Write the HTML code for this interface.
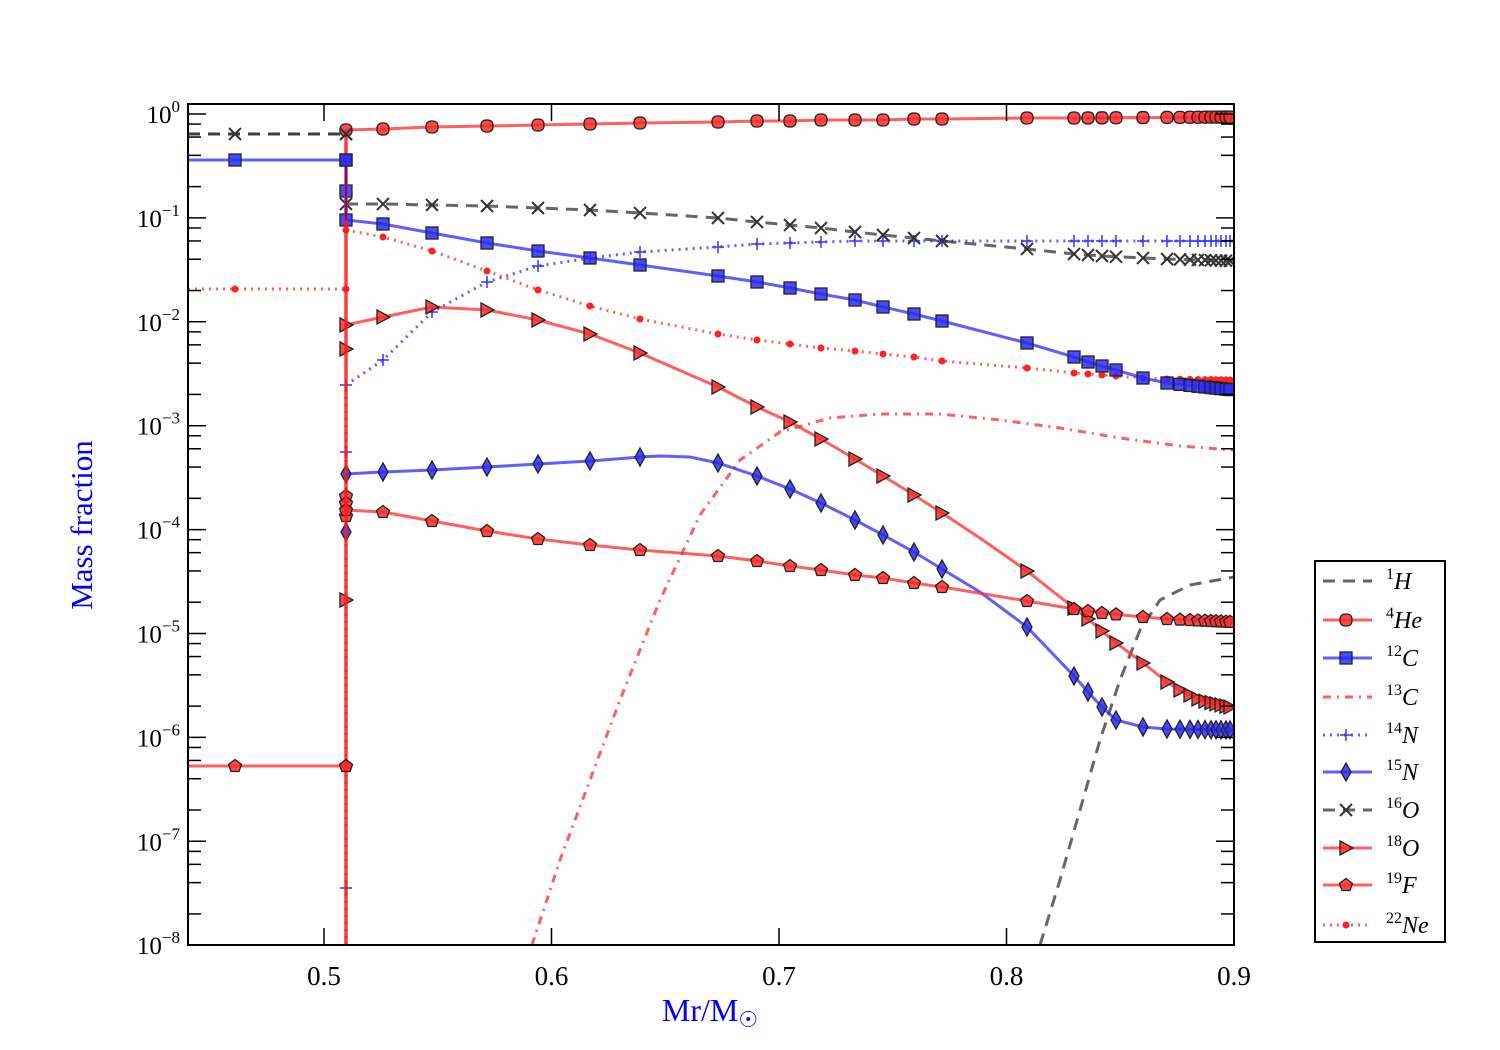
<!DOCTYPE html>
<html><head><meta charset="utf-8"><style>
html,body{margin:0;padding:0;background:#fff;}
svg{display:block;}
text{font-family:"Liberation Serif",serif;}
</style></head><body>
<svg id="s" width="1500" height="1050" xmlns="http://www.w3.org/2000/svg">
<defs><clipPath id="cp"><rect x="188" y="104" width="1046" height="841"/></clipPath></defs>
<g id="plot" clip-path="url(#cp)"></g>
<g id="ax"></g>
<rect x="188" y="104" width="1046" height="841" fill="none" stroke="#000" stroke-width="2"/>
<text x="92" y="525" fill="#0000ff" font-size="31" text-anchor="middle" transform="rotate(-90 92 525)">Mass fraction</text>
<text x="710" y="1021" fill="#0000ff" font-size="32" text-anchor="middle">Mr/M<tspan font-family="DejaVu Sans" font-size="22" dy="6">☉</tspan></text>
<g id="leg"></g>
</svg>
<script>
const NS="http://www.w3.org/2000/svg";
function el(t,a,p){const e=document.createElementNS(NS,t);for(const k in a)e.setAttribute(k,a[k]);(p||document.getElementById('plot')).appendChild(e);return e;}
const ax=document.getElementById('ax');
function Y(l){return 114-l*103.9;}
for(let d=0;d>=-8;d--){
  const y=Y(d);
  el('line',{x1:188,y1:y,x2:206,y2:y,stroke:'#000','stroke-width':1.5},ax);
  el('line',{x1:1234,y1:y,x2:1216,y2:y,stroke:'#000','stroke-width':1.5},ax);
  const t=el('text',{x:180,y:y+9,'font-size':25,'text-anchor':'end'},ax);
  t.innerHTML='10<tspan dy="-11" font-size="17">'+(d==0?'0':'−'+(-d))+'</tspan>';
  [2,4,6,8].forEach(k=>{const yy=Y(d+Math.log10(k));if(yy>945||yy<104)return;
    el('line',{x1:188,y1:yy,x2:201,y2:yy,stroke:'#000','stroke-width':1.5},ax);
    el('line',{x1:1234,y1:yy,x2:1221,y2:yy,stroke:'#000','stroke-width':1.5},ax);});
}
[0.5,0.6,0.7,0.8,0.9].forEach(v=>{const x=324+(v-0.5)*2275;
  el('line',{x1:x,y1:945,x2:x,y2:928,stroke:'#000','stroke-width':1.5},ax);
  el('line',{x1:x,y1:104,x2:x,y2:121,stroke:'#000','stroke-width':1.5},ax);
  const t=el('text',{x:x,y:985,'font-size':27,'text-anchor':'middle'},ax);t.textContent=v.toFixed(1);});
const MX=[383,432,487,538,590,640,718,757,790,821,855,883,914,942,1027,1074,1088,1102,1116,1143,1167,1180,1190,1198,1205,1211,1216,1221,1226,1230];
function interp(pts,x){for(let i=0;i<pts.length-1;i++){const a=pts[i],b=pts[i+1];if(x>=a[0]&&x<=b[0]){return a[1]+(b[1]-a[1])*(x-a[0])/(b[0]-a[0]);}}return null;}
function marker(type,x,y,fill,g){
  const st={fill:fill,stroke:'#222','stroke-width':1.3,'fill-opacity':0.85};
  if(type=='o')el('rect',Object.assign({x:x-6,y:y-6,width:12,height:12,rx:5},st),g);
  if(type=='s')el('rect',Object.assign({x:x-6,y:y-6,width:12,height:12},st),g);
  if(type=='d')el('polygon',Object.assign({points:`${x},${y-9} ${x+5},${y} ${x},${y+9} ${x-5},${y}`},st),g);
  if(type=='t')el('polygon',Object.assign({points:`${x-6},${y-7} ${x+7},${y} ${x-6},${y+7}`},st),g);
  if(type=='p')el('polygon',Object.assign({points:`${x},${y-6.5} ${x+6.5},${y-1.5} ${x+4},${y+5.5} ${x-4},${y+5.5} ${x-6.5},${y-1.5}`},st),g);
  if(type=='x'){el('path',{d:`M${x-6},${y-6}L${x+6},${y+6}M${x-6},${y+6}L${x+6},${y-6}`,stroke:'#333','stroke-width':2},g);}
  if(type=='+'){el('path',{d:`M${x-6},${y}L${x+6},${y}M${x},${y-6}L${x},${y+6}`,stroke:'#3333ff','stroke-width':1.5},g);}
  if(type=='.')el('circle',{cx:x,cy:y,r:3.5,fill:'#ff2222'},g);
}
const DASH={solid:'',dash:'12,8',dot:'2,5',dashdot:'8,6,2,6'};
function series(o){
  const g=document.getElementById('plot');
  const segs=o.segs;
  segs.forEach(p=>el('path',{d:'M'+p.map(q=>q.join(',')).join('L'),fill:'none',stroke:o.c,'stroke-width':3,'stroke-opacity':0.75,'stroke-dasharray':DASH[o.ls]}));
  if(!o.m)return;
  (o.extra||[]).forEach(q=>marker(o.m,q[0],q[1],o.c,g));
  const main=segs[segs.length-1];
  MX.forEach(x=>{const y=interp(main,x);if(y!==null)marker(o.m,x,y,o.c,g);});
}
const R='#ff2a2a',B='#2a2aff',K='#333';
series({c:R,ls:'dashdot',segs:[[[532,945],[560,860],[590,780],[620,700],[660,600],[700,515],[740,460],[780,432],[830,418],[880,414],[940,414],[1000,420],[1060,428],[1120,438],[1180,446],[1234,450]]]});
series({c:K,ls:'dash',segs:[[[188,134],[346,134]],[[1040,945],[1060,880],[1080,810],[1100,740],[1120,680],[1140,630],[1160,600],[1190,585],[1234,577]]]});
series({c:B,ls:'dot',m:'+',segs:[[[346,945],[346,385]],[[346,385],[383,360],[432,312],[487,282],[538,266],[590,258],[640,252],[718,247],[757,244],[790,243],[821,242],[855,241],[942,241],[1027,241],[1234,241]]],extra:[[346,385],[346,452],[346,888]]});
series({c:R,ls:'dot',m:'.',segs:[[[188,289],[346,289]],[[346,230],[383,237],[432,251],[487,271],[538,290],[590,306],[640,319],[718,334],[757,340],[790,344],[821,348],[855,351],[883,354],[914,357],[942,361],[1027,368],[1074,373],[1088,374],[1102,375],[1143,378],[1167,379],[1234,380]]],extra:[[235,289],[346,289],[346,230]]});
series({c:K,ls:'dash',m:'x',segs:[[[188,134],[346,134]],[[346,204],[383,204],[432,205],[487,206],[538,208],[590,210],[640,213],[718,218],[757,222],[790,225],[821,228],[855,232],[883,235],[914,238],[942,241],[1027,249],[1074,254],[1088,255],[1102,256],[1143,258],[1167,259],[1234,261]]],extra:[[235,134],[346,134],[346,204]]});
series({c:B,ls:'solid',m:'s',segs:[[[188,160],[346,160]],[[346,160],[346,220]],[[346,220],[383,224],[432,233],[487,243],[538,251],[590,258],[640,265],[718,276],[757,282],[790,288],[821,294],[855,300],[883,307],[914,314],[942,321],[1027,343],[1074,357],[1088,362],[1102,366],[1116,370],[1143,378],[1167,383],[1234,390]]],extra:[[235,160],[346,160],[346,191],[346,220]]});
series({c:B,ls:'solid',m:'d',segs:[[[346,474],[383,472],[432,470],[487,467],[538,464],[590,461],[640,457],[660,456],[690,457],[718,463],[757,476],[790,489],[821,503],[855,520],[883,535],[914,552],[942,569],[980,592],[1027,627],[1074,676],[1088,692],[1102,707],[1116,720],[1143,727],[1167,729],[1234,730]]],extra:[[346,474],[346,532]]});
series({c:R,ls:'solid',m:'t',segs:[[[346,325],[383,317],[432,307],[487,310],[538,320],[590,334],[640,353],[718,387],[757,407],[790,422],[821,439],[855,459],[883,476],[914,495],[942,513],[980,538],[1027,571],[1074,608],[1088,619],[1102,631],[1116,643],[1143,663],[1167,682],[1180,690],[1200,700],[1234,708]]],extra:[[346,325],[346,349],[346,600]]});
series({c:R,ls:'solid',m:'p',segs:[[[188,766],[346,766]],[[346,510],[383,512],[432,521],[487,531],[538,539],[590,545],[640,550],[718,556],[757,561],[790,566],[821,570],[855,575],[883,578],[914,583],[942,587],[1027,601],[1074,609],[1088,611],[1102,613],[1143,617],[1167,619],[1234,622]]],extra:[[235,766],[346,766],[346,496],[346,503],[346,516],[346,510]]});
el('line',{x1:346,y1:945,x2:346,y2:130,stroke:'#ff1a1a','stroke-width':3.5,'stroke-opacity':0.85});
el('line',{x1:346,y1:160,x2:346,y2:220,stroke:'#4b1aa0','stroke-width':2});
series({c:R,ls:'solid',m:'o',segs:[[[346,130],[383,129],[432,127],[487,126],[538,125],[590,124],[640,123],[718,122],[757,121],[790,121],[821,120],[855,120],[883,120],[914,119],[942,119],[1027,118],[1074,118],[1234,117]]],extra:[[346,130]]});
marker('x',346,134,'#333',document.getElementById('plot'));
marker('s',346,160,B,document.getElementById('plot'));
marker('p',346,766,R,document.getElementById('plot'));
const lg=document.getElementById('leg');
el('rect',{x:1315,y:561,width:130,height:381,fill:'#fff',stroke:'#000','stroke-width':2},lg);
const L=[['1','H',K,'dash',null],['4','He',R,'solid','o'],['12','C',B,'solid','s'],['13','C',R,'dashdot',null],['14','N',B,'dot','+'],['15','N',B,'solid','d'],['16','O',K,'dash','x'],['18','O',R,'solid','t'],['19','F',R,'solid','p'],['22','Ne',R,'dot','.']];
const LY=[581,620,658,697,735,772,810,848,885,925];
L.forEach((e,i)=>{const y=LY[i];
  el('line',{x1:1323,y1:y,x2:1372,y2:y,stroke:e[2],'stroke-width':3,'stroke-opacity':0.75,'stroke-dasharray':DASH[e[3]]},lg);
  if(e[4])marker(e[4],1346,y,e[2],lg);
  const t=el('text',{x:1386,y:y+8,'font-size':24},lg);
  t.innerHTML='<tspan font-size="16" dy="-10">'+e[0]+'</tspan><tspan dy="10" font-style="italic">'+e[1]+'</tspan>';});
</script>
</body></html>
